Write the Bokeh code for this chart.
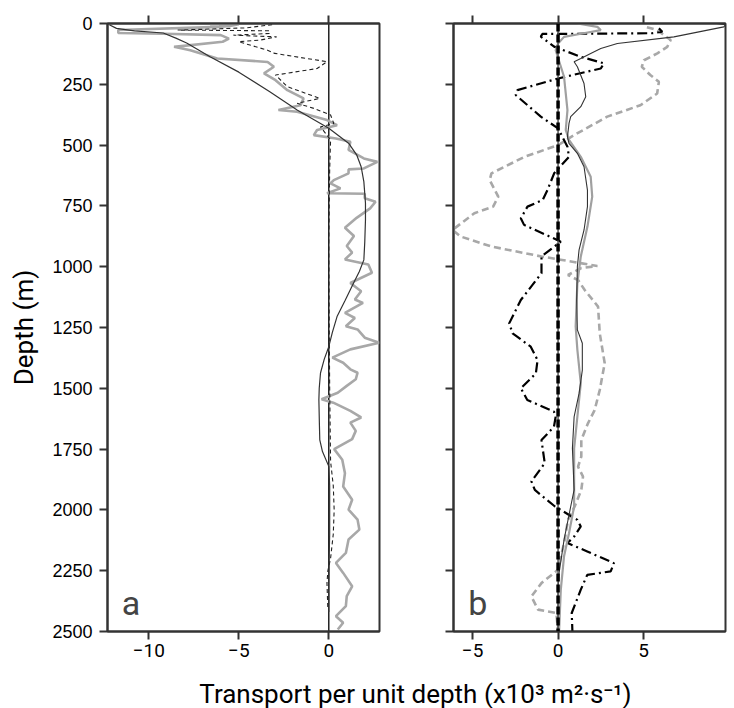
from bokeh.plotting import figure
from bokeh.models import Range1d, LinearAxis, Span, Label, FixedTicker
from bokeh.layouts import column, row
from bokeh.embed import file_html
from bokeh.resources import INLINE

# ---------------- data ----------------
depth_ticks = [0, 250, 500, 750, 1000, 1250, 1500, 1750, 2000, 2250, 2500]
a_xticks = [-10, -5, 0]
b_xticks = [-5, 0, 5]

# panel a: smooth thin black profile
a_black_depth = [5, 20, 30, 39, 60, 80, 137, 200, 280, 356, 431, 492, 540, 589, 650, 738, 808, 900, 972, 1020,
                 1067, 1140, 1205, 1270, 1329, 1380, 1437, 1500, 1547, 1650, 1712, 1760, 1821, 1900, 2000, 2100,
                 2200, 2300, 2420]
a_black_val = [-12.2, -11.8, -10.8, -9.2, -8.5, -7.9, -6.6, -5.0, -3.3, -1.76, 0.0, 1.1, 1.55, 1.8, 1.95, 2.04,
               2.04, 2.0, 1.95, 1.7, 1.38, 0.9, 0.46, 0.2, 0.0, -0.25, -0.46, -0.53, -0.55, -0.52, -0.5, -0.35,
               0.0, 0.05, 0.05, 0.05, 0.02, 0.0, 0.0]

# panel a: noisy grey profile
a_grey_depth = [3, 3, 10, 14, 27, 39, 42, 48, 62, 75, 96, 110, 144, 158, 178, 205, 233, 274, 308, 336, 356, 363,
                397, 418, 438, 459, 473, 486, 520, 555, 569, 596, 600, 616, 644, 657, 678, 698, 700, 719, 733,
                760, 799, 840, 874, 915, 942, 970, 991, 1025, 1067, 1101, 1135, 1149, 1190, 1211, 1245, 1258,
                1292, 1313, 1340, 1374, 1395, 1422, 1436, 1463, 1490, 1518, 1545, 1559, 1593, 1620, 1641, 1675,
                1709, 1750, 1794, 1849, 1904, 1958, 1999, 2040, 2081, 2122, 2177, 2218, 2259, 2314, 2355, 2396,
                2437, 2464, 2492]
a_grey_val = [-6.6, -5.0, -5.5, -6.1, -11.7, -11.7, -9.2, -6.0, -5.55, -5.9, -8.6, -7.7, -6.2, -3.4, -3.05, -3.6,
              -2.96, -2.3, -1.4, -1.57, -2.8, -1.76, -0.1, 0.46, -0.65, -0.83, 0.4, 1.2, 1.1, 1.95, 2.7, 1.95,
              1.1, 1.1, 0.28, 0.1, 0.65, -0.1, 2.0, 2.0, 2.6, 2.3, 1.55, 0.9, 1.4, 1.0, 1.3, 0.9, 2.2, 2.4, 1.2,
              1.8, 1.45, 1.9, 0.9, 1.45, 0.95, 1.6, 2.0, 2.8, 1.2, 0.2, 0.8, 1.2, 1.6, 1.5, 1.0, 0.5, -0.4, 0.25,
              1.2, 1.8, 1.2, 1.5, 1.3, 0.3, 0.75, 0.9, 0.8, 1.3, 1.1, 1.6, 1.7, 1.1, 0.95, 0.4, 0.8, 1.3, 1.0,
              0.95, 0.4, 0.8, 0.5]

# panel a: thin dashed black profile
a_dash_depth = [5, 18, 27, 30, 41, 48, 55, 68, 75, 110, 123, 157, 185, 212, 260, 308, 328, 349, 376, 411, 425,
                459, 479, 600, 900, 1200, 1500, 1800, 1900, 2000, 2100, 2200, 2250, 2300, 2410]
a_dash_val = [-3.15, -4.6, -8.4, -3.3, -3.3, -5.3, -2.9, -3.8, -5.0, -3.4, -3.0, -0.1, -0.65, -2.96, -2.3, -0.5,
              -1.76, -0.83, 0.1, 0.28, -0.46, -0.1, 0.1, 0.05, 0.0, 0.02, 0.05, 0.1, 0.25, 0.3, 0.25, 0.1, -0.05,
              -0.1, -0.05]

# panel b: black dash-dot profile
b_dashdot_depth = [20, 34, 40, 43, 54, 95, 137, 164, 185, 226, 274, 294, 383, 431, 507, 548, 616, 685, 726, 753,
                   801, 828, 897, 958, 1027, 1137, 1233, 1274, 1329, 1384, 1439, 1500, 1548, 1596, 1617, 1658,
                   1713, 1808, 1883, 1918, 1986, 2041, 2068, 2109, 2136, 2171, 2219, 2253, 2267, 2328, 2424, 2500]
b_dashdot_val = [5.9, 6.1, 5.5, -0.92, -1.01, -0.23, 1.33, 2.69, 2.5, 0.0, -2.38, -2.48, -1.01, 0.0, 0.55, 0.64,
                 -0.23, -0.62, -0.9, -1.79, -2.18, -1.99, 0.16, -0.97, -0.97, -2.18, -2.86, -2.66, -1.6, -1.2,
                 -1.3, -2.18, -1.8, -0.24, -0.14, -0.24, -0.97, -0.78, -1.56, -1.36, -0.18, 1.13, 1.33, 0.95,
                 0.55, 1.71, 3.27, 3.08, 1.71, 1.33, 0.8, 0.84]

# panel b: grey dashed profile
b_greydash_depth = [15, 27, 68, 96, 123, 151, 178, 212, 240, 288, 336, 383, 459, 500, 548, 616, 644, 712, 753,
                    780, 849, 876, 917, 958, 997, 1006, 1034, 1055, 1096, 1164, 1274, 1397, 1507, 1590, 1644, 1713,
                    1781, 1822, 1863, 1918, 1986, 2041, 2123, 2246, 2301, 2356, 2410, 2424, 2500]
b_greydash_val = [5.2, 5.8, 6.59, 6.39, 5.81, 5.03, 4.9, 5.4, 5.9, 5.8, 4.82, 2.88, 0.94, 0.0, -1.96, -3.9, -4.0,
                  -3.5, -3.8, -4.9, -6.18, -5.7, -3.9, -0.97, 2.3, 1.36, 0.58, 1.17, 1.56, 2.34, 2.44, 2.73, 2.44,
                  2.14, 1.75, 1.36, 1.36, 1.17, 1.46, 1.36, 0.97, 0.58, 0.39, 0.0, -0.97, -1.56, -1.17, -0.1, 0.0]

# panel b: thin dark solid profile
b_thin_depth = [0, 5, 14, 55, 82, 103, 123, 144, 157, 178, 247, 301, 342, 383, 411, 466, 493, 534, 589, 685, 753,
                849, 931, 999, 1137, 1260, 1315, 1425, 1521, 1617, 1747, 1918, 1986, 2123, 2260, 2328, 2500]
b_thin_val = [9.3, 9.8, 9.7, 6.78, 3.47, 2.5, 1.91, 1.33, 0.94, 1.13, 1.52, 1.62, 1.33, 0.74, 0.64, 0.55, 0.64,
              1.13, 1.52, 1.72, 1.72, 1.52, 1.23, 1.13, 1.09, 1.13, 1.42, 1.42, 1.23, 0.94, 0.84, 0.94, 0.74, 0.35,
              0.06, 0.0, 0.0]

# panel b: grey solid profile
b_grey_depth = [0, 14, 27, 40, 55, 82, 110, 219, 356, 438, 479, 548, 630, 712, 835, 958, 1068, 1246, 1342, 1479,
                1617, 1747, 1986, 2096, 2191, 2328, 2500]
b_grey_val = [1.13, 2.3, 2.5, 1.5, 0.35, 0.0, -0.14, 0.35, 0.55, 0.45, 0.64, 1.33, 1.91, 2.0, 1.72, 1.33, 1.13,
              1.03, 1.13, 1.33, 1.13, 0.94, 0.94, 0.64, 0.35, 0.16, 0.06]

x_label = "Transport per unit depth (x10³ m²·s⁻¹)"
y_label = "Depth (m)"
panel_a = "a"
panel_b = "b"

# ---------------- styling ----------------
COND = "Roboto"
REG = "Liberation Sans"
FRAME = "#333333"
GREY = "#a8a8a8"


def style_axis(ax, ticks, labels_on, font, size, standoff=7):
    ax.ticker = FixedTicker(ticks=ticks)
    ax.minor_tick_line_color = None
    ax.major_tick_in = 0
    ax.major_tick_out = 8
    ax.major_tick_line_width = 2
    ax.major_tick_line_color = FRAME
    ax.axis_line_width = 2
    ax.axis_line_color = FRAME
    if labels_on:
        ax.major_label_overrides = {t: ("\u2212" + str(abs(t)) if t < 0 else str(t)) for t in ticks}
        ax.major_label_text_font = font
        ax.major_label_text_font_size = size
        ax.major_label_text_color = "black"
        ax.major_label_standoff = standoff
    else:
        ax.major_label_text_font_size = "1px"
        ax.major_label_text_color = None
        ax.major_label_standoff = 0


def make_panel(xr, xticks, left_border, right_border, y_labels):
    p = figure(frame_width=272, frame_height=608, x_range=Range1d(*xr), y_range=Range1d(2500, 0),
               output_backend="svg", toolbar_location=None,
               min_border_left=left_border, min_border_right=right_border,
               min_border_top=23, min_border_bottom=34)
    p.grid.visible = False
    p.outline_line_color = FRAME
    p.outline_line_width = 2
    p.outline_line_alpha = 1
    p.background_fill_color = "white"
    p.border_fill_color = "white"
    style_axis(p.xaxis[0], xticks, True, COND, "19px", standoff=4)
    style_axis(p.yaxis[0], depth_ticks, y_labels, REG, "18px")
    top = LinearAxis()
    style_axis(top, xticks, False, COND, "1px")
    p.add_layout(top, "above")
    return p


p1 = make_panel((-12.3, 2.82), a_xticks, 107, 10, True)
p1.yaxis[0].axis_label = y_label
p1.yaxis[0].axis_label_text_font = COND
p1.yaxis[0].axis_label_text_font_size = "26px"
p1.yaxis[0].axis_label_text_font_style = "normal"
p1.yaxis[0].axis_label_text_color = "black"
p1.yaxis[0].axis_label_standoff = 10

p1.add_layout(Span(location=0, dimension="height", line_color="#222222", line_width=1.5, level="underlay"))
p1.line(a_grey_val, a_grey_depth, line_color=GREY, line_width=2.6)
p1.line(a_dash_val, a_dash_depth, line_color="#222222", line_width=1.1, line_dash="4 3")
p1.line(a_black_val, a_black_depth, line_color="#333333", line_width=1.2)
p1.add_layout(Label(x=-11.0, y=2382, text=panel_a, text_font=COND, text_font_size="34px", text_color="#444444",
                    text_align="center", text_baseline="middle"))

p2 = make_panel((-6.12, 9.8), b_xticks, 64, 4, False)
p2.line(b_greydash_val, b_greydash_depth, line_color=GREY, line_width=2.6, line_dash="7 4")
p2.line(b_dashdot_val, b_dashdot_depth, line_color="black", line_width=2.2, line_dash="10 4 2 4")
p2.line(b_grey_val, b_grey_depth, line_color="#a0a0a0", line_width=2.2)
p2.line(b_thin_val, b_thin_depth, line_color="#333333", line_width=1.1)
p2.add_layout(Span(location=0, dimension="height", line_color="#555555", line_width=1.5))
p2.add_layout(Span(location=0, dimension="height", line_color="black", line_width=3.5, line_dash="8 3"))
p2.add_layout(Label(x=-4.7, y=2382, text=panel_b, text_font=COND, text_font_size="34px", text_color="#444444",
                    text_align="center", text_baseline="middle"))

# bottom strip carrying the shared x-axis title
W3, H3 = 729, 43
p3 = figure(width=W3, height=H3, x_range=Range1d(0, W3), y_range=Range1d(0, H3),
            output_backend="svg", toolbar_location=None, min_border=0,
            x_axis_location=None, y_axis_location=None)
p3.grid.visible = False
p3.outline_line_color = None
p3.add_layout(Label(x=415, y=15, text=x_label, text_font=COND, text_font_size="26px", text_color="black",
                    text_align="center", text_baseline="alphabetic"))

layout = column(row(p1, p2), p3)
open("out.html", "w").write(file_html(layout, INLINE))
